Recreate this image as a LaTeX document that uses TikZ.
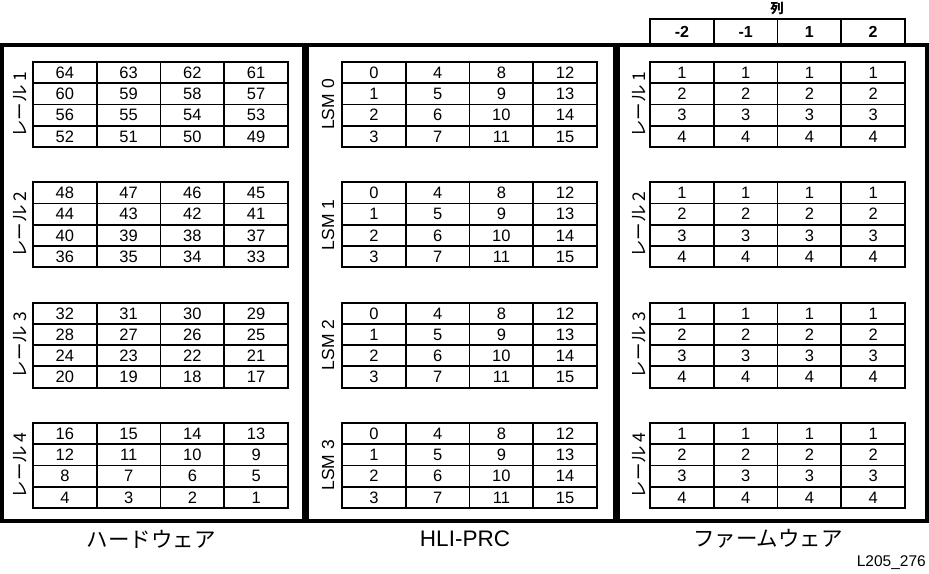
\documentclass[tikz,border=0pt]{standalone}
\usepackage{fontspec}
\setmainfont{Liberation Sans}
\newfontfamily\jpfont{Noto Sans CJK JP}
\usetikzlibrary{positioning}

\tikzset{
  panel/.style={line width=4pt},
  gridline/.style={line width=1.8pt},
  cell/.style={inner sep=0pt, anchor=base, font=\fontsize{16.5}{16.5}\selectfont},
  headcell/.style={inner sep=0pt, anchor=base, font=\bfseries\fontsize{16}{16}\selectfont},
  raillabel/.style={inner sep=0pt, rotate=90, font=\jpfont\fontsize{17.5}{17.5}\selectfont},
  lsmlabel/.style={inner sep=0pt, rotate=90, font=\fontsize{17.5}{17.5}\selectfont},
  caption/.style={inner sep=0pt, font=\jpfont\fontsize{21.5}{21.5}\selectfont}
}

\begin{document}
\begin{tikzpicture}[x=1pt,y=-1pt]
  \useasboundingbox (0,0) rectangle (929,573);

  % Three panels
  \draw[panel] (2,45) rectangle (304,521);
  \draw[panel] (307,45) rectangle (615,521);
  \draw[panel] (618,45) rectangle (927,521);

  % Column header over the firmware panel
  \node[inner sep=0pt, font=\jpfont\bfseries\fontsize{13.5}{13.5}\selectfont] (colhead) at (777,9) {列};
  \draw[gridline] (650,19) rectangle (905,45);
  \foreach \k in {1,2,3}
    \draw[gridline] ({650+63.75*\k},19) -- ({650+63.75*\k},45);
  \foreach \v [count=\c from 0] in {-2,-1,1,2}
    \node[headcell] (col\c) at ({650+63.75*\c+31.9},37.5) {\v};

  % Grids: 4 per panel
  \foreach \g in {0,...,3}{
    \pgfmathsetmacro{\gy}{62+120.3*\g}
    \pgfmathtruncatemacro{\n}{\g+1}
    \foreach \gx in {33,342,650}{
      \draw[gridline] (\gx,\gy) rectangle ++(255,85);
      \foreach \k in {1,2,3}{
        \draw[gridline] (\gx,{\gy+21.25*\k}) -- ++(255,0);
        \draw[gridline] ({\gx+63.75*\k},\gy) -- ++(0,85);
      }
    }
    % Side labels
    \node[raillabel] (hwrail\g) at (20,{\gy+42.5}) {レール \n};
    \node[lsmlabel] (lsm\g) at (328,{\gy+42.5}) {LSM \g};
    \node[raillabel] (fwrail\g) at (639,{\gy+42.5}) {レール \n};
    % Cell numbers
    \foreach \r in {0,...,3}
      \foreach \c in {0,...,3}{
        \pgfmathtruncatemacro{\hv}{64-16*\g-4*\r-\c}
        \pgfmathtruncatemacro{\lv}{4*\c+\r}
        \pgfmathtruncatemacro{\fv}{\r+1}
        \node[cell] (hw\g\r\c) at ({33+63.75*\c+31.9},{\gy+21.25*\r+16.4}) {\hv};
        \node[cell] (hli\g\r\c) at ({342+63.75*\c+31.9},{\gy+21.25*\r+16.4}) {\lv};
        \node[cell] (fw\g\r\c) at ({650+63.75*\c+31.9},{\gy+21.25*\r+16.4}) {\fv};
      }
  }

  % Panel captions
  \node[caption] (hwcap) at (151,539) {ハードウェア};
  \node[inner sep=0pt, font=\fontsize{22.5}{22.5}\selectfont] (hlicap) at (465,539) {HLI-PRC};
  \node[caption] (fwcap) at (768,539) {ファームウェア};
  \node[inner sep=0pt, font=\fontsize{15.5}{15.5}\selectfont, anchor=east] (figid) at (926,563) {L205\_276};
\end{tikzpicture}
\end{document}
